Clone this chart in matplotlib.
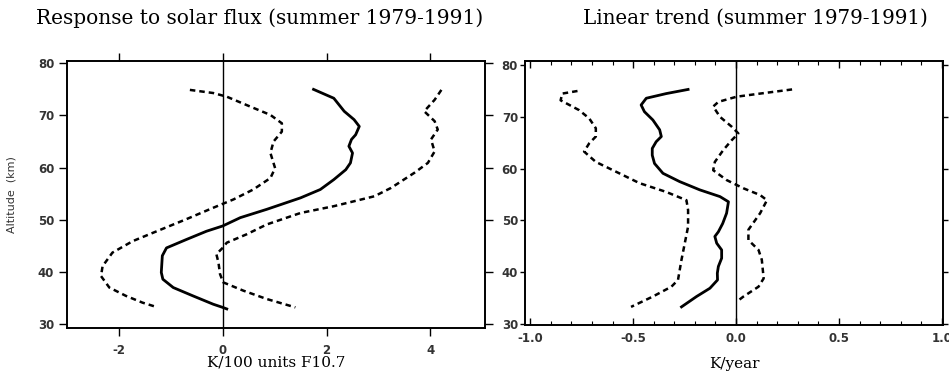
import matplotlib
matplotlib.use("Agg")
import matplotlib.pyplot as plt
from matplotlib.ticker import MultipleLocator

# solar flux response, K / 100 units F10.7
alt_solar = [75.0, 73.3, 70.8, 69.2, 67.9, 66.3, 65.4, 64.1, 62.8, 60.9, 59.6, 57.7,
             55.8, 54.2, 52.0, 50.4, 48.8, 47.8, 46.2, 44.6, 43.1, 39.9, 38.6, 37.0,
             35.4, 33.8, 33.2, 32.9]
solar = [1.75, 2.14, 2.34, 2.53, 2.63, 2.56, 2.48, 2.43, 2.50, 2.46, 2.37, 2.14,
         1.88, 1.50, 0.85, 0.34, 0.0, -0.31, -0.70, -1.08, -1.16, -1.18, -1.15, -0.95,
         -0.57, -0.18, 0.0, 0.08]

alt_solar_lo = [74.9, 74.3, 73.6, 72.0, 70.1, 68.5, 66.9, 65.0, 62.8, 59.9, 58.0, 55.8,
                53.9, 52.3, 50.1, 47.5, 45.9, 43.7, 41.1, 39.2, 37.0, 35.4, 34.1, 33.2]
solar_lo = [-0.63, -0.18, 0.08, 0.46, 0.92, 1.14, 1.14, 0.98, 0.92, 1.01, 0.92, 0.59,
            0.21, -0.18, -0.70, -1.34, -1.73, -2.12, -2.31, -2.34, -2.18, -1.86, -1.54, -1.25]

alt_solar_hi = [74.9, 73.0, 70.8, 68.9, 67.3, 65.4, 63.1, 60.9, 59.0, 56.1, 54.5, 52.6,
                51.3, 49.1, 47.2, 45.6, 44.6, 43.4, 41.8, 39.6, 38.0, 36.4, 34.8, 33.2]
solar_hi = [4.21, 4.08, 3.88, 4.08, 4.14, 4.01, 4.08, 3.95, 3.69, 3.24, 2.92, 2.14,
            1.50, 0.85, 0.46, 0.08, 0.0, -0.12, -0.08, -0.05, 0.01, 0.40, 0.85, 1.40]

# linear trend, K / year
alt_trend = [75.3, 74.5, 73.6, 72.3, 71.0, 69.4, 67.5, 66.2, 65.2, 63.9, 62.6, 61.0,
             59.1, 57.5, 55.9, 54.6, 53.6, 51.4, 49.4, 47.8, 46.9, 45.6, 44.3, 42.7,
             41.1, 39.8, 38.5, 36.9, 35.3, 33.3]
trend = [-0.233, -0.339, -0.436, -0.461, -0.445, -0.404, -0.371, -0.363, -0.388, -0.407,
         -0.407, -0.396, -0.355, -0.274, -0.176, -0.078, -0.037, -0.046, -0.065, -0.086,
         -0.103, -0.094, -0.070, -0.070, -0.086, -0.091, -0.090, -0.127, -0.192, -0.265]

alt_trend_lo = [75.0, 74.5, 73.2, 71.3, 69.7, 67.8, 66.2, 64.9, 63.3, 61.3, 59.1, 57.2,
                55.5, 53.9, 52.0, 48.8, 45.6, 42.4, 38.5, 37.2, 35.3, 33.3]
trend_lo = [-0.770, -0.844, -0.852, -0.762, -0.713, -0.681, -0.681, -0.713, -0.738, -0.681,
            -0.567, -0.469, -0.339, -0.241, -0.233, -0.233, -0.249, -0.265, -0.282, -0.314,
            -0.404, -0.510]

alt_trend_hi = [75.3, 74.5, 73.9, 72.9, 72.0, 70.0, 68.1, 66.8, 65.5, 63.6, 61.3, 59.7,
                57.8, 56.2, 54.9, 53.9, 51.4, 48.2, 46.2, 44.3, 42.4, 38.8, 37.2, 35.3, 34.3]
trend_hi = [0.272, 0.117, 0.003, -0.086, -0.111, -0.078, -0.021, 0.011, -0.021, -0.062,
            -0.103, -0.111, -0.046, 0.036, 0.117, 0.150, 0.117, 0.060, 0.060, 0.109,
            0.125, 0.134, 0.109, 0.036, 0.003]

alt_ticks = [30, 40, 50, 60, 70, 80]
solar_ticks = [-2, 0, 2, 4]
trend_ticks = [-1.0, -0.5, 0.0, 0.5, 1.0]

serif = "DejaVu Serif"
tick_kw = dict(fontsize=8.5, fontweight="bold", color="#333333")
dash = (0, (2.2, 1.6))

fig = plt.figure(figsize=(9.49, 3.74), dpi=100)
ax1 = fig.add_axes([0.0703, 0.1238, 0.4408, 0.7139])
ax2 = fig.add_axes([0.5532, 0.131, 0.4405, 0.706])

# left panel
ax1.plot(solar, alt_solar, color="black", lw=2.0, solid_joinstyle="round")
ax1.plot(solar_lo, alt_solar_lo, color="black", lw=1.8, ls=dash)
ax1.plot(solar_hi, alt_solar_hi, color="black", lw=1.8, ls=dash)
ax1.axvline(0, color="black", lw=1.0)
ax1.set_xlim(-3.0, 5.05)
ax1.set_ylim(29.3, 80.5)
ax1.set_xticks(solar_ticks)
ax1.set_xticklabels([str(t) for t in solar_ticks], **tick_kw)
ax1.set_yticks(alt_ticks)
ax1.set_yticklabels([str(t) for t in alt_ticks], **tick_kw)
ax1.tick_params(direction="out", length=6, width=1.0, top=True, right=True, pad=3)
ax1.tick_params(axis="x", pad=6)
ax1.set_xlabel("K/100 units F10.7", family=serif, fontsize=11, labelpad=-1)
ax1.set_ylabel("Altitude  (km)", fontsize=8, color="#333333")
ax1.yaxis.set_label_coords(-0.119, 0.5)

# right panel
ax2.plot(trend, alt_trend, color="black", lw=2.0, solid_joinstyle="round")
ax2.plot(trend_lo, alt_trend_lo, color="black", lw=1.8, ls=dash)
ax2.plot(trend_hi, alt_trend_hi, color="black", lw=1.8, ls=dash)
ax2.axvline(0, color="black", lw=1.0)
ax2.set_xlim(-1.025, 1.005)
ax2.set_ylim(29.8, 80.8)
ax2.set_xticks(trend_ticks)
ax2.set_xticklabels([f"{t:.1f}" for t in trend_ticks], **tick_kw)
ax2.xaxis.set_minor_locator(MultipleLocator(0.1))
ax2.set_yticks(alt_ticks)
ax2.set_yticklabels([str(t) for t in alt_ticks], **tick_kw)
ax2.tick_params(axis="x", which="major", direction="in", length=5, width=1.0,
                top=True, pad=5)
ax2.tick_params(axis="x", which="minor", direction="in", length=3, width=0.8, top=True)
ax2.tick_params(axis="y", which="major", direction="out", length=3.5, width=1.0, pad=1.5)
ax2.tick_params(axis="y", which="major", right=True)
ax2.set_xlabel("K/year", family=serif, fontsize=11, labelpad=9)

for ax in (ax1, ax2):
    for sp in ax.spines.values():
        sp.set_linewidth(1.4)

fig.text(260 / 949, 1 - 18 / 374, "Response to solar flux (summer 1979-1991)",
         family=serif, fontsize=14.5, ha="center", va="center")
fig.text(755 / 949, 1 - 18 / 374, "Linear trend (summer 1979-1991)",
         family=serif, fontsize=14.3, ha="center", va="center")

fig.savefig("out.png", dpi=100)
